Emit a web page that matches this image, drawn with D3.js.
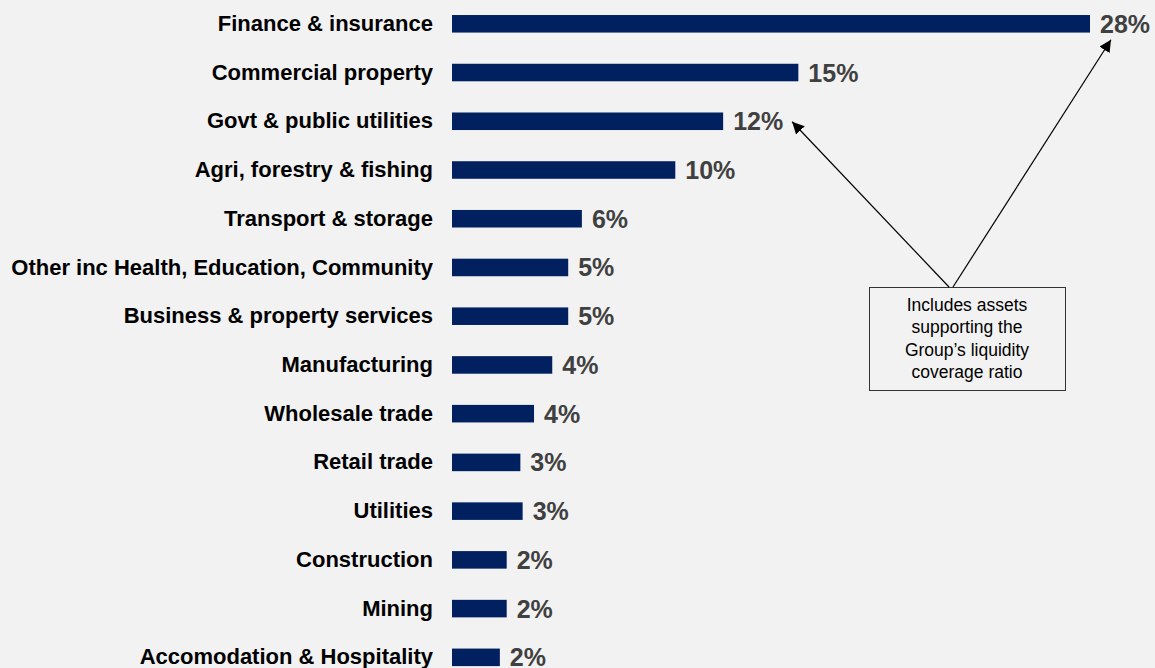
<!DOCTYPE html>
<html>
<head>
<meta charset="utf-8">
<script src="https://cdn.jsdelivr.net/npm/d3@7"></script>
<style>
  html, body { margin: 0; padding: 0; background: #f2f2f2; }
  svg { display: block; }
</style>
</head>
<body>
<svg id="chart" width="1155" height="668"></svg>
<script>
const categories = [
  "Finance & insurance",
  "Commercial property",
  "Govt & public utilities",
  "Agri, forestry & fishing",
  "Transport & storage",
  "Other inc Health, Education, Community",
  "Business & property services",
  "Manufacturing",
  "Wholesale trade",
  "Retail trade",
  "Utilities",
  "Construction",
  "Mining",
  "Accomodation & Hospitality"
];
const values = [28.0, 15.2, 11.9, 9.8, 5.7, 5.1, 5.1, 4.4, 3.6, 3.0, 3.1, 2.4, 2.4, 2.1];
const valueLabels = ["28%", "15%", "12%", "10%", "6%", "5%", "5%", "4%", "4%", "3%", "3%", "2%", "2%", "2%"];
const noteLines = ["Includes assets", "supporting the", "Group\u2019s liquidity", "coverage ratio"];

const W = 1155, H = 668;
const svg = d3.select("#chart");
svg.append("rect").attr("width", W).attr("height", H).attr("fill", "#f2f2f2");

const data = categories.map((c, i) => ({ cat: c, v: values[i], label: valueLabels[i] }));

const x = d3.scaleLinear().domain([0, 28]).range([452, 1090]);
const y = d3.scaleBand().domain(categories).range([-0.57, 681.7]).paddingInner(0.64).paddingOuter(0.32);

const font = "'Liberation Sans', Arial, Helvetica, sans-serif";

// bars
svg.append("g").selectAll("rect").data(data).join("rect")
  .attr("x", x(0))
  .attr("y", d => y(d.cat))
  .attr("width", d => x(d.v) - x(0))
  .attr("height", y.bandwidth())
  .attr("fill", "#002060");

// category labels (axis)
const axis = d3.axisLeft(y).tickSize(0).tickPadding(0);
const gAxis = svg.append("g").attr("transform", `translate(${x(0) - 19},0)`).call(axis);
gAxis.select(".domain").remove();
gAxis.selectAll("text")
  .attr("font-family", font)
  .attr("font-size", 22)
  .attr("font-weight", "bold")
  .attr("fill", "#000");

// value labels
svg.append("g").selectAll("text").data(data).join("text")
  .attr("x", d => x(d.v) + 10)
  .attr("y", d => y(d.cat) + y.bandwidth() / 2)
  .attr("dy", "0.36em")
  .attr("font-family", font)
  .attr("font-size", 25)
  .attr("font-weight", "bold")
  .attr("fill", "#404040")
  .text(d => d.label);

// annotation box
const box = { x: 869, y: 287, w: 196, h: 103 };
const ann = svg.append("g");
ann.append("rect")
  .attr("x", box.x + 0.5).attr("y", box.y + 0.5)
  .attr("width", box.w).attr("height", box.h)
  .attr("fill", "#f2f2f2").attr("stroke", "#333").attr("stroke-width", 1);
ann.selectAll("text.note").data(noteLines).join("text")
  .attr("class", "note")
  .attr("x", box.x + box.w / 2)
  .attr("y", (d, i) => box.y + 24 + i * 22.3)
  .attr("text-anchor", "middle")
  .attr("font-family", font)
  .attr("font-size", 17.5)
  .attr("fill", "#000")
  .text(d => d);

// arrows
const defs = svg.append("defs");
defs.append("marker")
  .attr("id", "arrow")
  .attr("viewBox", "0 0 10 10")
  .attr("refX", 10).attr("refY", 5)
  .attr("markerWidth", 12).attr("markerHeight", 12)
  .attr("markerUnits", "userSpaceOnUse")
  .attr("orient", "auto")
  .append("path").attr("d", "M0,0 L10,5 L0,10 Z").attr("fill", "#000");

const govt = data[2], fin = data[0];
const tipL = [x(govt.v) + 69, y(govt.cat) + y.bandwidth() / 2 + 0.5];
const tipR = [1111, y(fin.cat) + y.bandwidth() / 2 + 16];
ann.append("line")
  .attr("x1", 949).attr("y1", box.y)
  .attr("x2", tipL[0]).attr("y2", tipL[1])
  .attr("stroke", "#000").attr("stroke-width", 1.2)
  .attr("marker-end", "url(#arrow)");
ann.append("line")
  .attr("x1", 953).attr("y1", box.y)
  .attr("x2", tipR[0]).attr("y2", tipR[1])
  .attr("stroke", "#000").attr("stroke-width", 1.2)
  .attr("marker-end", "url(#arrow)");
</script>
</body>
</html>
